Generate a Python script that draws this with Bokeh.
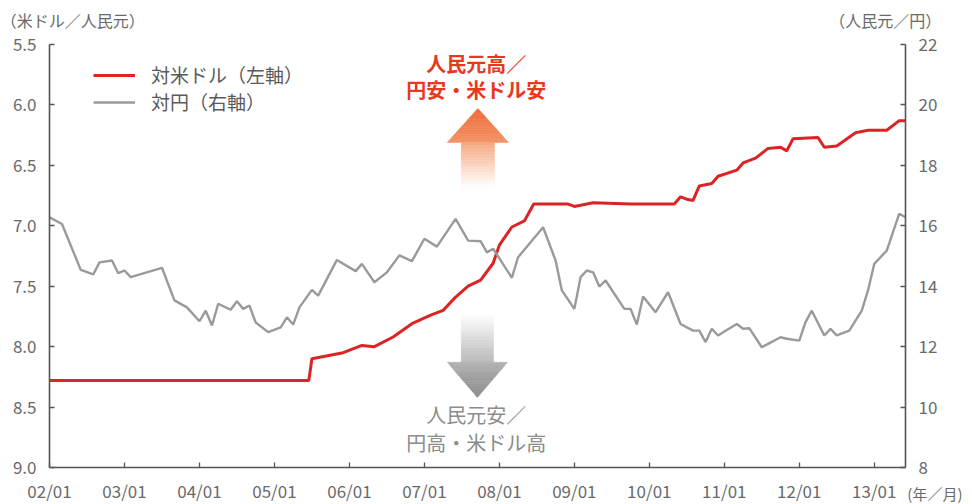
import numpy as np
from bokeh.plotting import figure
from bokeh.models import (Range1d, LinearAxis, FixedTicker, Label, Legend,
                          LegendItem, NumeralTickFormatter)
from bokeh.embed import file_html
from bokeh.resources import INLINE

FONT = "Noto Sans CJK JP"

# ---- data (months since 2002/01) ----
xtick_months = [0, 12, 24, 36, 48, 60, 72, 84, 96, 108, 120, 132]
xtick_labels = ["02/01", "03/01", "04/01", "05/01", "06/01", "07/01",
                "08/01", "09/01", "10/01", "11/01", "12/01", "13/01"]

usd_months = [0, 41.5, 42, 47, 50, 52, 55, 58, 61, 63, 65, 67, 69, 71, 72, 74,
              76, 77.5, 80, 83, 84, 87, 93, 100, 101, 102, 103, 104, 106, 107,
              110, 111, 113, 115, 117, 118, 119, 123, 124, 126, 129, 131, 134,
              136, 137]
usd_cny = [8.28, 8.28, 8.10, 8.05, 7.99, 8.00, 7.92, 7.81, 7.74, 7.70, 7.59,
           7.50, 7.45, 7.31, 7.16, 7.01, 6.96, 6.82, 6.82, 6.82, 6.84, 6.81,
           6.82, 6.82, 6.76, 6.78, 6.79, 6.67, 6.65, 6.59, 6.54, 6.48, 6.44,
           6.36, 6.35, 6.38, 6.28, 6.27, 6.35, 6.34, 6.23, 6.21, 6.21, 6.13,
           6.13]

jpy_months = [0, 2, 5, 7, 8, 10, 11, 12, 13, 18, 20, 22, 24, 25, 26, 27, 29,
              30, 31, 32, 33, 35, 37, 38, 39, 40, 42, 43, 46, 49, 50, 52, 54,
              56, 58, 60, 62, 65, 67, 69, 70, 71, 74, 75, 79, 81, 82, 84, 85,
              86, 87, 88, 89, 92, 93, 94, 95, 97, 99, 101, 103, 104, 105, 106,
              107, 108, 110, 111, 112, 114, 115, 117, 118, 120, 121, 122, 124,
              125, 126, 128, 130, 131, 132, 134, 136, 137]
cny_jpy = [16.28, 16.06, 14.54, 14.39, 14.79, 14.85, 14.43, 14.52, 14.30,
           14.61, 13.53, 13.30, 12.84, 13.19, 12.70, 13.42, 13.22, 13.50,
           13.25, 13.36, 12.80, 12.48, 12.64, 12.97, 12.73, 13.30, 13.88,
           13.69, 14.87, 14.50, 14.74, 14.13, 14.46, 15.02, 14.83, 15.57,
           15.31, 16.23, 15.51, 15.49, 15.12, 15.24, 14.28, 14.96, 15.95,
           14.85, 13.86, 13.25, 14.30, 14.52, 14.46, 13.99, 14.19, 13.25,
           13.25, 12.73, 13.66, 13.14, 13.80, 12.75, 12.53, 12.53, 12.15,
           12.59, 12.37, 12.50, 12.75, 12.59, 12.61, 11.98, 12.09, 12.31,
           12.26, 12.20, 12.81, 13.19, 12.37, 12.59, 12.37, 12.53, 13.19,
           13.86, 14.74, 15.18, 16.40, 16.28]

left_ticks = [5.5, 6.0, 6.5, 7.0, 7.5, 8.0, 8.5, 9.0]
right_ticks = [8, 10, 12, 14, 16, 18, 20, 22]

RED = "#dc2326"
GRAY = "#9a9a9a"
AXC = "#555555"
TXT = "#6a6a6a"

# ---- layout geometry: plot box inside the canvas (pixels) ----
W, H = 972, 504
BOX_L, BOX_R, BOX_T, BOX_B = 49, 905, 44, 467
X0, X1 = xtick_months[0], 137
YL0, YL1 = left_ticks[0], left_ticks[-1]       # 5.5 top, 9.0 bottom
YR0, YR1 = right_ticks[0], right_ticks[-1]     # 8 bottom, 22 top

kx = (BOX_R - BOX_L) / (X1 - X0)
kl = (BOX_B - BOX_T) / (YL1 - YL0)
kr = (BOX_B - BOX_T) / (YR1 - YR0)
x_range = Range1d(X0 - BOX_L / kx, X1 + (W - BOX_R) / kx)
y_range = Range1d(YL1 + (H - BOX_B) / kl, YL0 - BOX_T / kl)
r_range = Range1d(YR0 - (H - BOX_B) / kr, YR1 + BOX_T / kr)

p = figure(width=W, height=H, output_backend="svg", toolbar_location=None,
           x_range=x_range, y_range=y_range, x_axis_type=None, y_axis_type=None,
           min_border=0)
p.title.visible = False
p.extra_y_ranges = {"jpy": r_range}
p.outline_line_color = None
p.background_fill_color = "white"
p.border_fill_color = "white"


def style_axis(ax, size="17px", standoff=10):
    ax.axis_line_color = AXC
    ax.axis_line_width = 1.6
    ax.major_tick_line_color = AXC
    ax.major_tick_line_width = 1.3
    ax.major_tick_in = 5
    ax.major_tick_out = 0
    ax.minor_tick_line_color = None
    ax.major_label_text_font = FONT
    ax.major_label_text_font_size = size
    ax.major_label_text_color = TXT
    ax.major_label_standoff = standoff


# bottom axis
xa = LinearAxis(ticker=FixedTicker(ticks=xtick_months), fixed_location=YL1,
                bounds=(X0, X1))
xa.major_label_overrides = {m: l for m, l in zip(xtick_months, xtick_labels)}
style_axis(xa, standoff=10)
p.add_layout(xa, "below")

# left axis
ya = LinearAxis(ticker=FixedTicker(ticks=left_ticks), fixed_location=X0,
                bounds=(YL0, YL1), formatter=NumeralTickFormatter(format="0.0"))
style_axis(ya, standoff=13)
p.add_layout(ya, "left")

# right axis
ra = LinearAxis(y_range_name="jpy", ticker=FixedTicker(ticks=right_ticks),
                fixed_location=X1, bounds=(YR0, YR1))
style_axis(ra, standoff=13)
p.add_layout(ra, "right")


# ---- gradient arrows (decoration) ----
def mix(c0, c1, t):
    a = [int(c0[i:i + 2], 16) for i in (1, 3, 5)]
    b = [int(c1[i:i + 2], 16) for i in (1, 3, 5)]
    return "#%02x%02x%02x" % tuple(int(round(a[k] + (b[k] - a[k]) * t)) for k in range(3))


def arrow(xc, shaft_half, head_half, y_tip, y_base, y_end,
          head_c0, head_c1, shaft_c0, shaft_c1, n_head=18, n_shaft=30):
    xs, ys, cs = [], [], []
    for i in range(n_head):
        t0, t1 = i / n_head, (i + 1) / n_head
        ya0 = y_tip + (y_base - y_tip) * t0
        ya1 = y_tip + (y_base - y_tip) * t1
        h0, h1 = head_half * t0, head_half * t1
        xs.append([xc - h0, xc + h0, xc + h1, xc - h1])
        ys.append([ya0, ya0, ya1, ya1])
        cs.append(mix(head_c0, head_c1, (t0 + t1) / 2))
    for i in range(n_shaft):
        t0, t1 = i / n_shaft, (i + 1) / n_shaft
        ya0 = y_base + (y_end - y_base) * t0
        ya1 = y_base + (y_end - y_base) * t1
        xs.append([xc - shaft_half, xc + shaft_half, xc + shaft_half, xc - shaft_half])
        ys.append([ya0, ya0, ya1, ya1])
        cs.append(mix(shaft_c0, shaft_c1, (t0 + t1) / 2))
    p.patches(xs, ys, fill_color=cs, line_color=cs, line_width=0.6)


arrow(68.56, 2.64, 4.88, 6.03, 6.31, 6.68,
      "#ee6a3a", "#f39466", "#f4a67c", "#ffffff")
arrow(68.48, 2.56, 4.80, 8.42, 8.13, 7.73,
      "#8a8a8a", "#b2b2b2", "#b8b8b8", "#ffffff")

# ---- series ----
r_usd = p.line(usd_months, usd_cny, line_color=RED, line_width=3.0)
r_jpy = p.line(jpy_months, cny_jpy, line_color=GRAY, line_width=2.4,
               y_range_name="jpy")

legend = Legend(items=[LegendItem(label="対米ドル（左軸）", renderers=[r_usd]),
                       LegendItem(label="対円（右軸）", renderers=[r_jpy])],
                location=(93, 389), orientation="vertical")
legend.label_text_font = FONT
legend.label_text_font_size = "19px"
legend.label_text_color = "#5a5a5a"
legend.glyph_width = 42
legend.glyph_height = 22
legend.label_height = 22
legend.label_standoff = 16
legend.spacing = 0
legend.padding = 0
legend.margin = 0
legend.border_line_alpha = 0
legend.background_fill_alpha = 0
p.add_layout(legend)


# ---- texts ----
def lab(x, y, text, size, color, align="left", bold=False, **kw):
    p.add_layout(Label(x=x, y=y, text=text, text_font=FONT,
                       text_font_size=size, text_color=color,
                       text_align=align, text_baseline="middle",
                       text_font_style="bold" if bold else "normal", **kw))


RED_T = "#e8381e"
lab(68.3, 5.655, "人民元高／", "20px", RED_T, "center", True)
lab(68.3, 5.87, "円安・米ドル安", "20px", RED_T, "center", True)
lab(68.3, 8.56, "人民元安／", "20px", "#8c8c8c", "center")
lab(68.3, 8.79, "円高・米ドル高", "20px", "#8c8c8c", "center")

lab(-7.8, 5.30, "（米ドル／人民元）", "16px", TXT, "left")
lab(124.8, 5.30, "（人民元／円）", "16px", TXT, "left")
lab(137.3, 9.215, "(年／月)", "15px", TXT, "left")

open("out.html", "w").write(file_html(p, INLINE))
